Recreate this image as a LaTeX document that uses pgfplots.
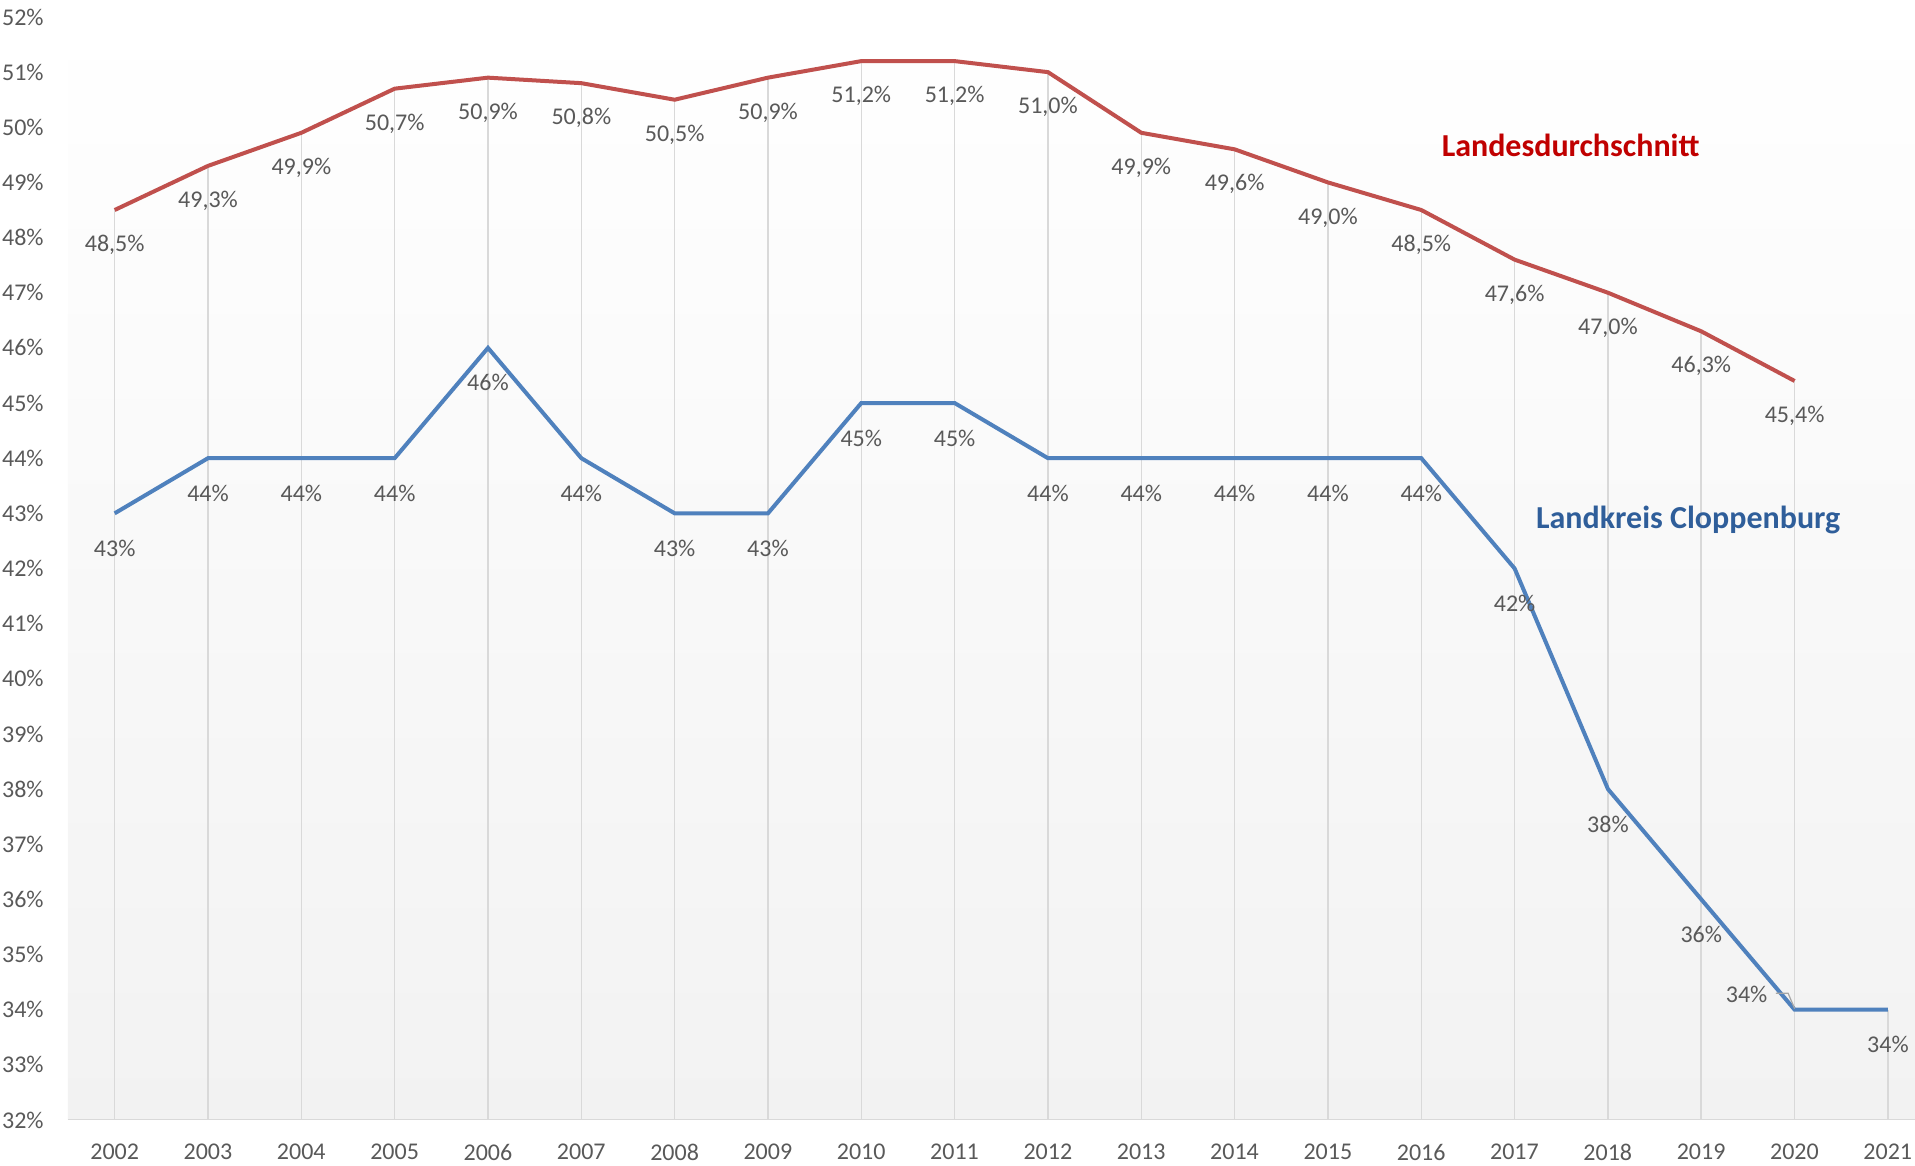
\documentclass[border=0pt]{standalone}
\usepackage{pgfplots}
\pgfplotsset{compat=1.18}
\usepackage{fontspec}
\setmainfont{Carlito}
\definecolor{redline}{HTML}{C0504D}
\definecolor{blueline}{HTML}{4F81BD}
\definecolor{txt}{HTML}{595959}
\definecolor{gridc}{HTML}{D9D9D9}
\definecolor{bgb}{HTML}{F2F2F2}
\definecolor{redtxt}{HTML}{C00000}
\definecolor{bluetxt}{HTML}{2F5E9A}
\pgfplotsset{/pgf/number format/assume math mode=true}
\begin{document}
\begin{tikzpicture}
\begin{axis}[
  at={(0,0)}, anchor=south west,
  scale only axis, width=923.5pt, height=551.5pt,
  xmin=2001.5, xmax=2021.29, ymin=32, ymax=52,
  axis line style={draw=none},
  axis background/.style={top color=white, bottom color=bgb},
  xtick={2002,...,2021}, ytick={32,...,52},
  major tick length=0pt, tick style={draw=none},
  xticklabel={\pgfmathprintnumber[1000 sep={}]{\tick}},
  yticklabel={\pgfmathprintnumber{\tick}\%},
  ticklabel style={font=\fontsize{12}{14}\selectfont, text=txt},
  yticklabel style={anchor=east, inner sep=0pt, xshift=-12pt},
  xticklabel style={anchor=north, inner sep=0pt, yshift=-12pt},
  nodes near coords style={font=\fontsize{12}{14}\selectfont, text=txt, anchor=center, yshift=-17.5pt},
]
% drop lines
\addplot[ycomb, draw=gridc, line width=0.8pt, mark=none, forget plot] coordinates {
(2002,48.5)(2003,49.3)(2004,49.9)(2005,50.7)(2006,50.9)(2007,50.8)(2008,50.5)(2009,50.9)(2010,51.2)(2011,51.2)
(2012,51.0)(2013,49.9)(2014,49.6)(2015,49.0)(2016,48.5)(2017,47.6)(2018,47.0)(2019,46.3)(2020,45.4)(2021,34)};
\draw[gridc, line width=0.8pt] (rel axis cs:0,0) -- (rel axis cs:1,0);
% red
\addplot[redline, line width=2pt, mark=none, point meta=y,
  nodes near coords={\pgfmathprintnumber[fixed,fixed zerofill,precision=1,use comma]{\pgfplotspointmeta}\%}]
coordinates {
(2002,48.5)(2003,49.3)(2004,49.9)(2005,50.7)(2006,50.9)(2007,50.8)(2008,50.5)(2009,50.9)(2010,51.2)(2011,51.2)
(2012,51.0)(2013,49.9)(2014,49.6)(2015,49.0)(2016,48.5)(2017,47.6)(2018,47.0)(2019,46.3)(2020,45.4)};
% blue
\addplot[blueline, line width=2pt, mark=none] coordinates {
(2002,43)(2003,44)(2004,44)(2005,44)(2006,46)(2007,44)(2008,43)(2009,43)(2010,45)(2011,45)
(2012,44)(2013,44)(2014,44)(2015,44)(2016,44)(2017,42)(2018,38)(2019,36)(2020,34)(2021,34)};
\addplot[draw=none, mark=none, point meta=y,
  nodes near coords={\pgfmathprintnumber[fixed,precision=0]{\pgfplotspointmeta}\%}]
coordinates {
(2002,43)(2003,44)(2004,44)(2005,44)(2006,46)(2007,44)(2008,43)(2009,43)(2010,45)(2011,45)
(2012,44)(2013,44)(2014,44)(2015,44)(2016,44)(2017,42)(2018,38)(2019,36)(2021,34)};
\addplot[draw=none, mark=none, point meta=y,
  nodes near coords={\pgfmathprintnumber[fixed,precision=0]{\pgfplotspointmeta}\%},
  nodes near coords style={yshift=25.3pt, xshift=-24pt}]
coordinates {(2020,34)};
\draw[color=gray!70, line width=0.6pt] (axis cs:2019.80,34.30) -- (axis cs:2019.93,34.30) -- (axis cs:2020,34.02);
\node[font=\fontsize{16}{19}\selectfont\bfseries, text=redtxt] at (axis cs:2017.6,49.68) {Landesdurchschnitt};
\node[font=\fontsize{16}{19}\selectfont\bfseries, text=bluetxt] at (axis cs:2018.86,42.88) {Landkreis Cloppenburg};
\end{axis}
\pgfresetboundingbox
\useasboundingbox (-34pt,-23pt) rectangle (923.5pt,560pt);
\end{tikzpicture}
\end{document}
